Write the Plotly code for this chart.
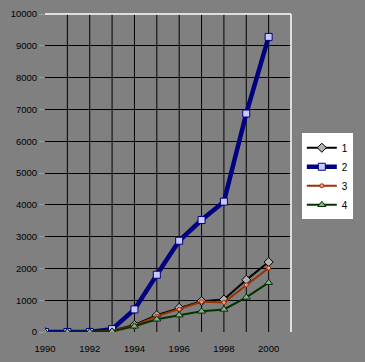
import plotly.graph_objects as go

years = [1990, 1991, 1992, 1993, 1994, 1995, 1996, 1997, 1998, 1999, 2000]
s1 = [0, 0, 0, 50, 220, 530, 760, 970, 1020, 1640, 2200]
s2 = [0, 0, 0, 90, 710, 1800, 2870, 3520, 4100, 6870, 9280]
s3 = [0, 0, 0, 40, 200, 500, 715, 950, 930, 1480, 2010]
s4 = [0, 0, 0, 20, 180, 400, 530, 650, 710, 1090, 1550]
names = ["1", "2", "3", "4"]
x_ticks = [1990, 1992, 1994, 1996, 1998, 2000]
y_ticks = [0, 1000, 2000, 3000, 4000, 5000, 6000, 7000, 8000, 9000, 10000]

fig = go.Figure()
fig.add_trace(go.Scatter(x=years, y=s1, name=names[0], mode="lines+markers",
                         line=dict(color="black", width=2),
                         marker=dict(symbol="diamond", size=7, color="#B0B0B0",
                                     line=dict(color="black", width=1))))
fig.add_trace(go.Scatter(x=years, y=s2, name=names[1], mode="lines+markers",
                         line=dict(color="#000080", width=4.5),
                         marker=dict(symbol="square", size=7, color="#C8C8FF",
                                     line=dict(color="#000080", width=1))))
fig.add_trace(go.Scatter(x=years, y=s3, name=names[2], mode="lines+markers",
                         line=dict(color="#993300", width=2),
                         marker=dict(symbol="circle", size=4, color="#FF9999",
                                     line=dict(color="#993300", width=1))))
fig.add_trace(go.Scatter(x=years, y=s4, name=names[3], mode="lines+markers",
                         line=dict(color="#003300", width=2),
                         marker=dict(symbol="triangle-up", size=7, color="#90A890",
                                     line=dict(color="#003300", width=1))))

fig.update_layout(
    width=365, height=362,
    margin=dict(l=45, r=72, t=14, b=30),
    paper_bgcolor="#808080", plot_bgcolor="#808080",
    font=dict(family="Liberation Sans, Arial", size=9.5, color="black"),
    showlegend=True,
    legend=dict(x=1.044, y=0.625, xanchor="left", yanchor="top",
                bgcolor="white", bordercolor="white", borderwidth=0,
                font=dict(size=10), itemwidth=30, tracegroupgap=0),
    xaxis=dict(range=[1990, 2001], tickmode="array", tickvals=x_ticks,
               ticktext=[str(v) for v in x_ticks],
               showgrid=False, zeroline=False, showline=False,
               ticks="outside", ticklen=8, tickcolor="rgba(0,0,0,0)",
               automargin=False, fixedrange=True),
    yaxis=dict(range=[0, 10000], tickmode="array", tickvals=y_ticks,
               ticktext=[str(v) for v in y_ticks],
               showgrid=True, gridcolor="black", gridwidth=1,
               zeroline=False, showline=False, ticks="outside", ticklen=5,
               tickcolor="#A0A0A0", automargin=False, fixedrange=True),
)
# vertical gridlines at every year (style only)
for yr in years[1:]:
    fig.add_shape(type="line", xref="x", yref="paper", x0=yr, x1=yr, y0=0, y1=1,
                  line=dict(color="black", width=1), layer="below")
# white top and right border of plot area
fig.add_shape(type="line", xref="paper", yref="paper", x0=0, x1=1, y0=1, y1=1,
              line=dict(color="white", width=1.5))
fig.add_shape(type="line", xref="paper", yref="paper", x0=1, x1=1, y0=0, y1=1,
              line=dict(color="white", width=1.5))

fig.write_html("out.html", config={"displayModeBar": False},
               post_script="document.body.style.margin='0';document.body.style.overflow='hidden';")
